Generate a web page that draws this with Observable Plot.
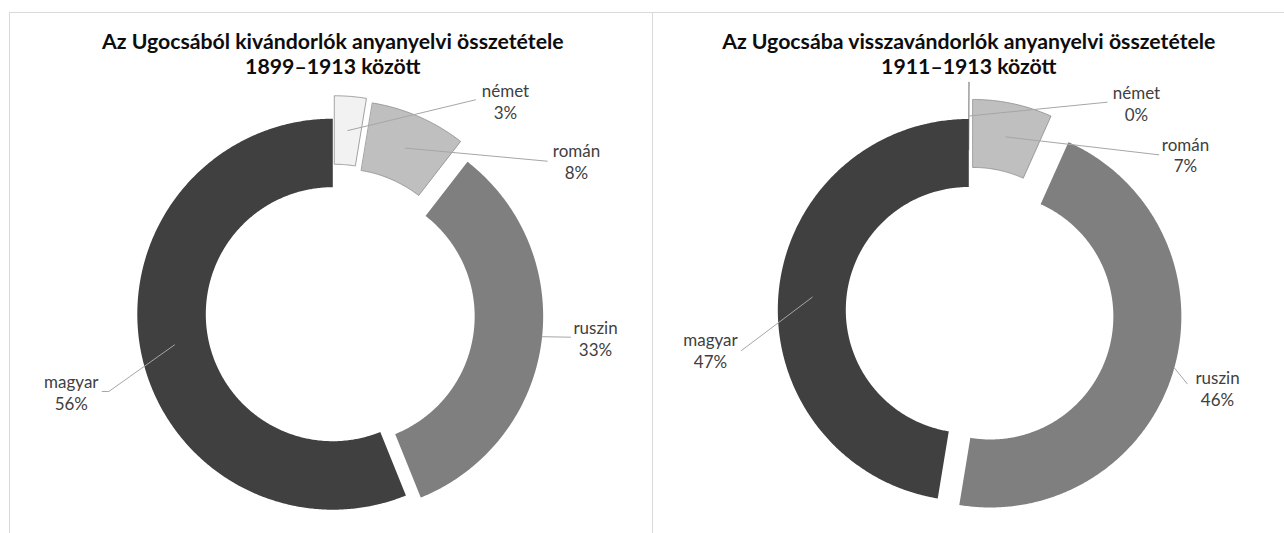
<!DOCTYPE html>
<html lang="hu">
<head>
<meta charset="utf-8">
<script src="https://cdn.jsdelivr.net/npm/d3@7"></script>
<script src="https://cdn.jsdelivr.net/npm/@observablehq/plot@0.6"></script>
<style>
html,body{margin:0;padding:0;background:#fff;}
#wrap{position:relative;width:1284px;height:533px;overflow:hidden;background:#fff;}
.panel{position:absolute;top:12px;height:530px;border-top:1px solid #d9d9d9;box-sizing:border-box;}
#p1{left:9px;width:644px;border-left:1px solid #d9d9d9;border-right:1px solid #d9d9d9;}
#p2{left:653px;width:643px;}
.panel svg{display:block;}
</style>
</head>
<body>
<div id="wrap"><div class="panel" id="p1"></div><div class="panel" id="p2"></div></div>
<script>
// ---- data ----
const categories = ["német", "román", "ruszin", "magyar"];
const emigrants = [2.6, 7.9, 33.4, 56.1];   // 1899–1913, %
const returnees = [0, 6.7, 45.9, 47.4];     // 1911–1913, %
const titleLines1 = ["Az Ugocsából kivándorlók anyanyelvi összetétele", "1899–1913 között"];
const titleLines2 = ["Az Ugocsába visszavándorlók anyanyelvi összetétele", "1911–1913 között"];

// ---- styles ----
const fills = ["#f2f2f2", "#bfbfbf", "#7f7f7f", "#404040"];
const outlines = ["#8c8c8c", "#8c8c8c", "none", "none"];
const FONT = "Lato";

// ---- layout (page pixels) ----
const panels = [
  {
    el: "#p1", origin: [10, 13], center: [332.3, 313.7], R: 195.5, r: 127,
    explode: [23, 20, 15, 0], values: emigrants, title: titleLines1, titleBaseline: 73,
    labels: [
      {x: 505, y: 118, leader: [[475, 99.3]], attach: "mid"},
      {x: 576, y: 178, leader: [[546.7, 160.7]], attach: "mid"},
      {x: 595, y: 355, leader: [[570, 336.7]], attach: 96},
      {x: 70.8, y: 409.5, leader: [[101.7, 391], [108.3, 391]], attach: "mid"}
    ]
  },
  {
    el: "#p2", origin: [653, 13], center: [968.3, 309.5], R: 191, r: 123,
    explode: [37, 20, 22.5, 0], values: returnees, title: titleLines2, titleBaseline: 73,
    labels: [
      {x: 1136, y: 120, leader: [[1106.7, 101.7]], attach: "mid"},
      {x: 1185, y: 171.7, leader: [[1158.3, 154.3]], attach: "mid"},
      {x: 1217, y: 405, leader: [[1186.7, 383.3]], attach: 105.6},
      {x: 710, y: 367, leader: [[741, 350]], attach: "mid"}
    ]
  }
];

// fit font sizes to the reference text widths
const ctx = document.createElement("canvas").getContext("2d");
function fit(text, weight, target) {
  ctx.font = `${weight} 100px ${FONT}`;
  return 100 * target / ctx.measureText(text).width;
}
const titleSize = fit(titleLines1[0], "bold", 462);
const labelSize = fit("németmagyarruszin", "normal", 146);

function drawPanel(P) {
  const W = 642, H = 520;
  const cx = P.center[0] - P.origin[0], cy = P.center[1] - P.origin[1];
  const toX = px => px - P.center[0];
  const toY = py => py - P.center[1];
  const arcs = d3.pie().sort(null).value(d => d)(P.values);
  const marks = [];

  arcs.forEach((a, i) => {
    const a0 = a.startAngle, a1 = a.endAngle, m = (a0 + a1) / 2;
    const e = P.explode[i];
    const ox = e * Math.sin(m), oy = -e * Math.cos(m);
    const n = Math.max(1, Math.ceil((a1 - a0) / (Math.PI / 360)));
    const pts = [];
    for (let k = 0; k <= n; k++) {
      const t = a0 + (a1 - a0) * k / n;
      pts.push({x: ox + P.R * Math.sin(t), y: oy - P.R * Math.cos(t)});
    }
    for (let k = n; k >= 0; k--) {
      const t = a0 + (a1 - a0) * k / n;
      pts.push({x: ox + P.r * Math.sin(t), y: oy - P.r * Math.cos(t)});
    }
    marks.push(Plot.line(pts, {x: "x", y: "y", curve: "linear-closed",
      fill: fills[i], stroke: outlines[i], strokeWidth: 0.8}));
  });

  arcs.forEach((a, i) => {
    const L = P.labels[i];
    const m = (a.startAngle + a.endAngle) / 2;
    const e = P.explode[i];
    const ox = e * Math.sin(m), oy = -e * Math.cos(m);
    let end;
    if (L.attach === "mid") {
      const rr = (P.R + P.r) / 2;
      end = {x: ox + rr * Math.sin(m), y: oy - rr * Math.cos(m)};
    } else {
      const ang = L.attach * Math.PI / 180;
      end = {x: ox + P.R * Math.sin(ang), y: oy - P.R * Math.cos(ang)};
    }
    const pts = L.leader.map(([x, y]) => ({x: toX(x), y: toY(y)})).concat([end]);
    marks.push(Plot.line(pts, {x: "x", y: "y", stroke: "#a6a6a6", strokeWidth: 1}));
  });

  marks.push(Plot.text(arcs.map((a, i) => ({
      x: toX(P.labels[i].x), y: toY(P.labels[i].y),
      t: `${categories[i]}\n${Math.round(a.data)}%`
    })), {x: "x", y: "y", text: "t", lineAnchor: "bottom", lineHeight: 21.7 / labelSize,
      fontSize: labelSize, fill: "#404040", textAnchor: "middle"}));

  marks.push(Plot.text([{x: 0, y: toY(P.titleBaseline), t: P.title.join("\n")}],
    {x: "x", y: "y", text: "t", lineAnchor: "bottom", lineHeight: 25 / titleSize,
      fontSize: titleSize, fontWeight: "bold", fill: "#0d0d0d", textAnchor: "middle"}));

  const svg = Plot.plot({
    width: W, height: H, margin: 0,
    x: {domain: [-cx, W - cx], range: [0, W], axis: null},
    y: {domain: [-cy, H - cy], range: [0, H], axis: null},
    style: {fontFamily: FONT, background: "transparent", overflow: "visible"},
    marks
  });
  document.querySelector(P.el).append(svg);
}

panels.forEach(drawPanel);
</script>
</body>
</html>
